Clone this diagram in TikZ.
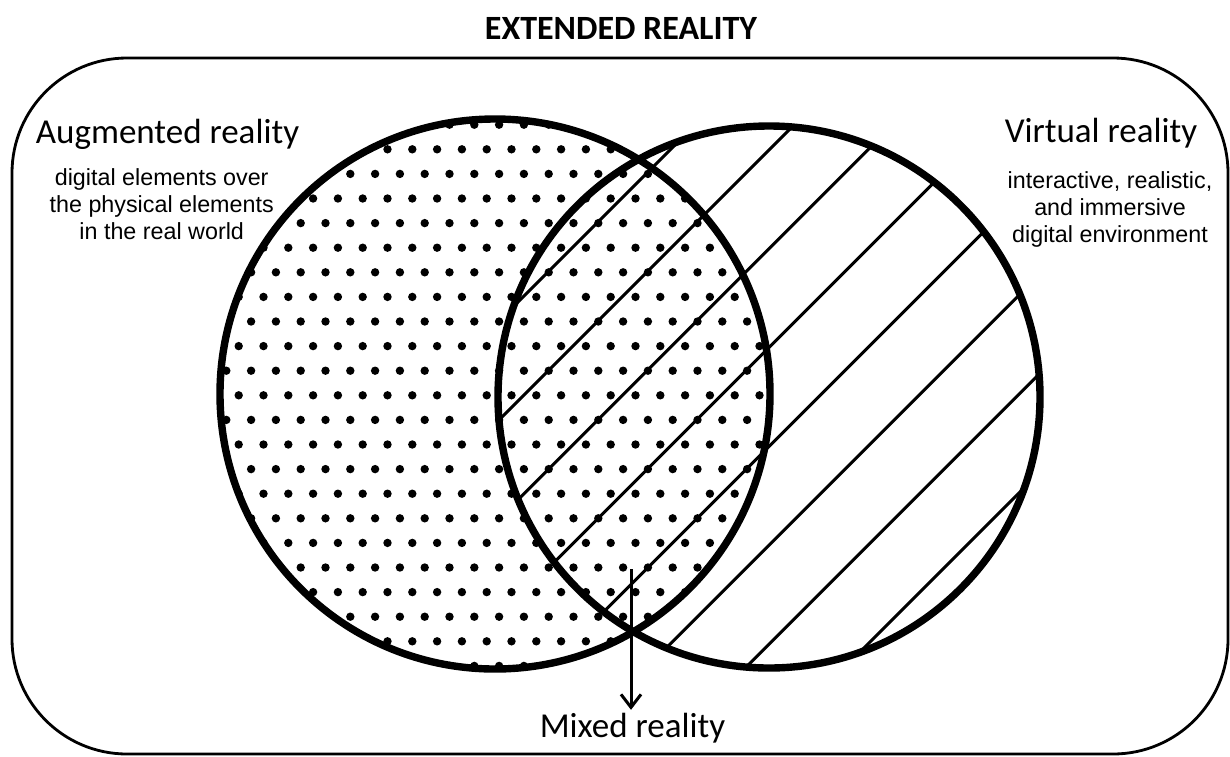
\documentclass[tikz,border=0pt]{standalone}
\usepackage{fontspec}
\usetikzlibrary{arrows.meta}
\setmainfont{Carlito}
\newfontfamily\arialfont{Liberation Sans}
\begin{document}
\begin{tikzpicture}[x=1pt,y=-1pt,
  frame/.style={line width=2.8pt, rounded corners=115pt},
  ring/.style={line width=7.4pt},
  hatchline/.style={line width=3pt},
  dotfill/.style={fill=black},
  biglabel/.style={font=\fontsize{35}{42}\selectfont, inner sep=0pt, anchor=base},
  titlelabel/.style={font=\bfseries\fontsize{34}{40}\selectfont, inner sep=0pt, anchor=base},
  smalltext/.style={font=\arialfont\fontsize{23.3}{27}\selectfont, align=center, inner sep=0pt, anchor=north},
  arrowline/.style={line width=3pt, -{Straight Barb[length=13pt,width=20pt,line width=3pt]}}
]
\useasboundingbox (0,0) rectangle (1230,756);

% frame
\draw[frame] (12,58) rectangle (1228,754);

\coordinate (arc) at (495,394);
\coordinate (vrc) at (769,397);

% dots in augmented reality circle
\begin{scope}
  \clip (arc) circle[radius=275];
  \foreach \k in {0,...,23}{
    \pgfmathsetmacro\yy{100.1+24.6*\k}
    \pgfmathsetmacro\xo{mod(\k,2)==0 ? 189.1 : 201.5}
    \foreach \m in {0,...,25}{
      \fill[dotfill] ({\xo+24.8*\m},\yy) circle[radius=4.2];
    }
  }
\end{scope}

% hatch lines in virtual reality circle
\begin{scope}
  \clip (vrc) circle[radius=271];
  \foreach \k in {0,...,7}{
    \pgfmathsetmacro\cc{820+98.86*\k}
    \draw[hatchline] ({\cc-100},100) -- ({\cc-700},700);
  }
\end{scope}

% circles
\draw[ring] (arc) circle[radius=275];
\draw[ring] (vrc) circle[radius=271];

% texts
\node[titlelabel] (title) at (621,39) {EXTENDED REALITY};
\node[biglabel] (ar) at (167.5,143.3) {Augmented reality};
\node[smalltext] (ardesc) at (161.7,168.3) {digital elements over\\the physical elements\\in the real world};
\node[biglabel] (vr) at (1101,142.7) {Virtual reality};
\node[smalltext] (vrdesc) at (1110,171.3) {interactive, realistic,\\and immersive\\digital environment};
\node[biglabel] (mixed) at (632.5,737.3) {Mixed reality};

\coordinate (mrtop) at (631,569);
\draw[arrowline, shorten >=3pt] (mrtop) -- (mrtop |- mixed.north);
\end{tikzpicture}
\end{document}
